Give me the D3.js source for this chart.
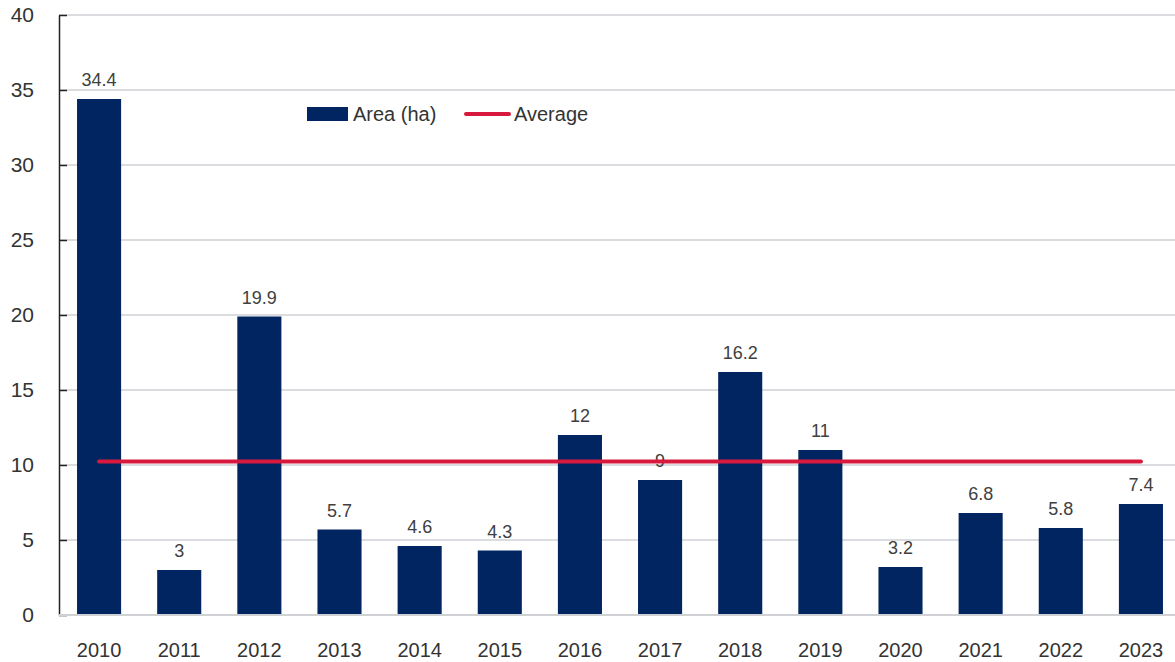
<!DOCTYPE html>
<html>
<head>
<meta charset="utf-8">
<script src="https://cdn.jsdelivr.net/npm/d3@7"></script>
<style>
  body { margin: 0; background: #fff; }
  svg text { font-family: "Liberation Sans", Arial, sans-serif; }
</style>
</head>
<body>
<div id="chart"></div>
<script>
// Data
const years = ["2010", "2011", "2012", "2013", "2014", "2015", "2016",
               "2017", "2018", "2019", "2020", "2021", "2022", "2023"];
const areaHa = [34.4, 3, 19.9, 5.7, 4.6, 4.3, 12, 9, 16.2, 11, 3.2, 6.8, 5.8, 7.4];
const averageHa = 10.24;
const yTicks = [0, 5, 10, 15, 20, 25, 30, 35, 40];

const width = 1175, height = 662;
const barColor = "#002561";
const avgColor = "#d7193d";

const svg = d3.select("#chart").append("svg")
    .attr("width", width)
    .attr("height", height);

const x = d3.scaleBand()
    .domain(years)
    .range([59, 1181])
    .paddingInner(0.45)
    .paddingOuter(0.225);

const y = d3.scaleLinear()
    .domain([0, 40])
    .range([615, 15]);

// Gridlines
svg.append("g")
    .selectAll("line")
    .data(yTicks)
    .enter()
    .append("line")
    .attr("x1", 59)
    .attr("x2", width)
    .attr("y1", d => y(d))
    .attr("y2", d => y(d))
    .attr("stroke", "#cfd1d4")
    .attr("stroke-width", 1.5);

// Y axis (ticks pointing inward)
const yAxis = svg.append("g")
    .attr("transform", "translate(59,0)")
    .call(d3.axisRight(y).tickValues(yTicks).tickSize(8).tickSizeOuter(0).tickFormat(""));
yAxis.select(".domain").attr("stroke", "#222").attr("stroke-width", 1.5);
yAxis.selectAll(".tick line").attr("stroke", "#222").attr("stroke-width", 1.5);

svg.append("g")
    .selectAll("text")
    .data(yTicks)
    .enter()
    .append("text")
    .attr("x", 34)
    .attr("y", d => y(d))
    .attr("dy", "0.35em")
    .attr("text-anchor", "end")
    .attr("font-size", "21px")
    .attr("fill", "#333")
    .text(d => d);

// Bars
svg.append("g")
    .selectAll("rect")
    .data(areaHa)
    .enter()
    .append("rect")
    .attr("x", (d, i) => x(years[i]))
    .attr("y", d => y(d))
    .attr("width", x.bandwidth())
    .attr("height", d => y(0) - y(d))
    .attr("fill", barColor);

// Value labels
svg.append("g")
    .selectAll("text")
    .data(areaHa)
    .enter()
    .append("text")
    .attr("x", (d, i) => x(years[i]) + x.bandwidth() / 2)
    .attr("y", d => y(d) - 13)
    .attr("text-anchor", "middle")
    .attr("font-size", "18px")
    .attr("fill", "#404040")
    .text(d => d);

// Baseline
svg.append("line")
    .attr("x1", 59).attr("x2", width)
    .attr("y1", y(0)).attr("y2", y(0))
    .attr("stroke", "#cfd1d4")
    .attr("stroke-width", 2);

// X labels
svg.append("g")
    .selectAll("text")
    .data(years)
    .enter()
    .append("text")
    .attr("x", d => x(d) + x.bandwidth() / 2)
    .attr("y", 657)
    .attr("text-anchor", "middle")
    .attr("font-size", "20px")
    .attr("fill", "#333")
    .text(d => d);

// Average line
svg.append("line")
    .attr("x1", x(years[0]) + x.bandwidth() / 2)
    .attr("x2", x(years[years.length - 1]) + x.bandwidth() / 2)
    .attr("y1", y(averageHa))
    .attr("y2", y(averageHa))
    .attr("stroke", avgColor)
    .attr("stroke-width", 4)
    .attr("stroke-linecap", "round");

// Legend
const legend = svg.append("g");
legend.append("rect")
    .attr("x", 307).attr("y", 107)
    .attr("width", 41).attr("height", 14)
    .attr("fill", barColor);
legend.append("text")
    .attr("x", 353).attr("y", 114)
    .attr("dy", "0.35em")
    .attr("font-size", "20px")
    .attr("fill", "#333")
    .text("Area (ha)");
legend.append("line")
    .attr("x1", 466).attr("x2", 509)
    .attr("y1", 114).attr("y2", 114)
    .attr("stroke", avgColor)
    .attr("stroke-width", 4)
    .attr("stroke-linecap", "round");
legend.append("text")
    .attr("x", 514).attr("y", 114)
    .attr("dy", "0.35em")
    .attr("font-size", "20px")
    .attr("fill", "#333")
    .text("Average");
</script>
</body>
</html>
